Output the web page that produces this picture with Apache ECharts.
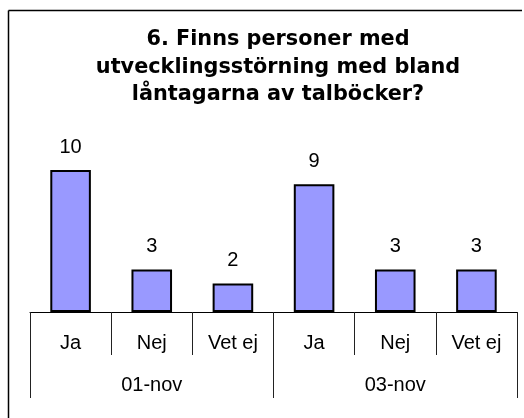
<!DOCTYPE html>
<html>
<head>
<meta charset="utf-8">
<style>
  html, body { margin: 0; padding: 0; background: #fff; overflow: hidden; }
  #chart { width: 524px; height: 418px; }
</style>
<script src="https://cdn.jsdelivr.net/npm/echarts@6/dist/echarts.min.js"></script>
</head>
<body>
<div id="chart"></div>
<script>
// Answers per survey date
const answers = ['Ja', 'Nej', 'Vet ej', 'Ja', 'Nej', 'Vet ej'];
const dates = ['01-nov', '03-nov'];
const counts = [10, 3, 2, 9, 3, 3];
const titleText = '6. Finns personer med\nutvecklingsstörning med bland\nlåntagarna av talböcker?';

const chart = echarts.init(document.getElementById('chart'), null, { renderer: 'canvas' });

chart.setOption({
  backgroundColor: '#ffffff',
  animation: false,
  title: {
    text: titleText,
    left: 273,
    top: 21,
    textAlign: 'center',
    textStyle: {
      fontFamily: 'DejaVu Sans',
      fontWeight: 'bold',
      fontSize: 20.8,
      lineHeight: 27.5,
      color: '#000'
    }
  },
  // chart-area frame: left and top edges
  graphic: [{
    type: 'line',
    shape: { x1: 8.5, y1: 10.5, x2: 8.5, y2: 418 },
    style: { stroke: '#000', lineWidth: 1.5 },
    silent: true
  }, {
    type: 'line',
    shape: { x1: 8.5, y1: 10.5, x2: 522, y2: 10.5 },
    style: { stroke: '#000', lineWidth: 1.5 },
    silent: true
  }],
  grid: { left: 30, right: 7, top: 170, bottom: 106 },
  xAxis: [{
    type: 'category',
    data: answers,
    boundaryGap: true,
    axisLine: { lineStyle: { color: '#000', width: 1 } },
    axisTick: { show: true, interval: 0, length: 43, lineStyle: { color: '#222' } },
    axisLabel: {
      interval: 0, margin: 21,
      fontFamily: 'Liberation Sans', fontSize: 20, color: '#000'
    }
  }, {
    type: 'category',
    data: dates,
    position: 'bottom',
    boundaryGap: true,
    axisLine: { show: false },
    axisTick: { show: true, interval: 0, length: 86, lineStyle: { color: '#222' } },
    axisLabel: {
      interval: 0, margin: 63,
      fontFamily: 'Liberation Sans', fontSize: 20, color: '#000'
    }
  }],
  yAxis: {
    type: 'value',
    min: 0,
    max: 10,
    show: false,
    splitLine: { show: false }
  },
  series: [{
    type: 'bar',
    data: counts,
    barWidth: '50%',
    itemStyle: { color: '#9999FF', borderColor: '#000', borderWidth: 2 },
    label: {
      show: true,
      position: 'top',
      distance: 13,
      fontFamily: 'Liberation Sans',
      fontSize: 20,
      color: '#000'
    }
  }]
});
</script>
</body>
</html>
